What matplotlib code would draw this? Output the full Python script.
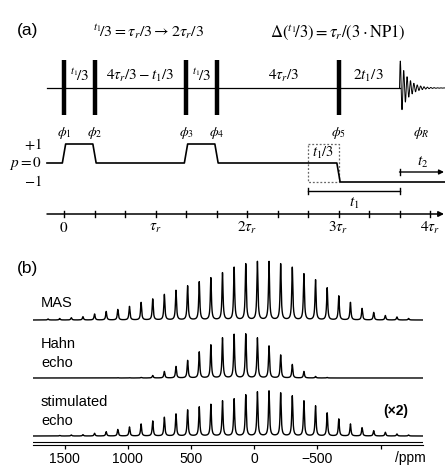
import numpy as np
import matplotlib
matplotlib.use('Agg')
import matplotlib.pyplot as plt
from matplotlib.patches import Rectangle

plt.rcParams['mathtext.fontset'] = 'stix'
plt.rcParams['font.family'] = ['Liberation Sans', 'DejaVu Sans']

# ---------------- data: (a) pulse sequence (times in units of tau_r) ----------------
pulse_times = [0, 1/3, 4/3, 5/3, 3]
pulse_labels = [r'$\phi_1$', r'$\phi_2$', r'$\phi_3$', r'$\phi_4$', r'$\phi_5$']
acq_start = 11/3
coherence_levels = [0, 1, 0, 1, 0, -1]          # before/after each pulse
segment_centers = [1/6, 0.83, 1.5, 2.4, 3.33]
FRAC = r'{}^{t_1}\!/3'
segment_labels = ['$' + FRAC + '$', r'$4\tau_r/3 - t_1/3$', '$' + FRAC + '$',
                  r'$4\tau_r/3$', r'$2t_1/3$']
time_ticks = [i/3 for i in range(13)]
time_tick_labels = {0: r'$0$', 3: r'$\tau_r$', 6: r'$2\tau_r$', 9: r'$3\tau_r$', 12: r'$4\tau_r$'}

# ---------------- data: (b) spinning-sideband spectra ----------------
sideband_ppm = [1631, 1539, 1447, 1355, 1263, 1171, 1079, 987, 895, 803, 711, 619,
                527, 435, 343, 251, 159, 67, -25, -117, -209, -301, -393, -485,
                -577, -669, -761, -853, -945, -1037, -1129, -1221]
mas_heights = [1, 1.5, 2.3, 3.3, 6, 8.5, 10.5, 13.5, 17.5, 21, 25.5, 29.5,
               34, 38, 42, 47, 52.5, 56, 58.3, 58.3, 56, 52.5, 46, 40,
               32, 24, 17.5, 11.5, 7.5, 4.5, 3, 1.5]
hahn_heights = [0, 0, 0, 0, 0, 0, 0.3, 0.3, 0.5, 2.5, 6.5, 11.5,
                17.5, 26, 33, 40, 43.5, 44, 40, 32, 23, 13.5, 6.5, 1.5,
                0.5, 0, 0, 0, 0, 0, 0, 0]
stim_heights = [0, 0.5, 1, 1.3, 2.7, 4.3, 6.5, 9, 12, 15, 18.7, 22,
                26, 29, 31.5, 35, 37, 41, 44, 45, 43, 40, 35, 30,
                23, 17, 12, 8.3, 5.3, 3.7, 2, 1]
ppm_ticks = [1500, 1000, 500, 0, -500, -1000]
ppm_tick_labels = ['1500', '1000', '500', '0', '\u2212500', '']

W, H = 445, 466
fig = plt.figure(figsize=(W/100, H/100), dpi=100)

def ptext(x, y, s, **kw):
    kw.setdefault('ha', 'center')
    kw.setdefault('va', 'center')
    fig.text(x/W, 1 - y/H, s, **kw)

# ---------------- (a) ----------------
X0, TR = 64.0, 91.5
def px2t(px):
    return (px - X0) / TR

axa = fig.add_axes([0, 0, 1, 1])
axa.set_xlim(px2t(0), px2t(W))
axa.set_ylim(H, 0)
axa.axis('off')

LINE_Y = 88
axa.plot([px2t(47), acq_start], [LINE_Y, LINE_Y], color='k', lw=0.9)
for tp in pulse_times:
    axa.plot([tp, tp], [60, 115], color='k', lw=3.2, solid_capstyle='butt')
# FID (schematic)
tf = np.linspace(0, px2t(W) - acq_start, 600)
fid = 30 * np.exp(-tf / 0.085) * np.sin(2 * np.pi * tf / 0.037)
axa.plot(acq_start + tf, LINE_Y - fid, color='k', lw=0.7)

for c, s in zip(segment_centers, segment_labels):
    axa.text(c, 76, s, ha='center', va='center', fontsize=11)
for tp, s in zip(pulse_times, pulse_labels):
    axa.text(tp, 133, s, ha='center', va='center', fontsize=10)
axa.text(px2t(421), 133, r'$\phi_R$', ha='center', va='center', fontsize=10)

# coherence pathway
def cy(p):
    return 163 - 19 * p
pt = [px2t(47)]
pp = [coherence_levels[0]]
for i, tp in enumerate(pulse_times):
    pt += [tp - 0.018, tp + 0.018]
    pp += [coherence_levels[i], coherence_levels[i + 1]]
pt.append(px2t(W))
pp.append(coherence_levels[-1])
axa.plot(pt, [cy(p) for p in pp], color='k', lw=1.2)
axa.text(px2t(42), cy(1), r'$+1$', ha='right', va='center', fontsize=10.5)
axa.text(px2t(42), cy(0), r'$p = 0$', ha='right', va='center', fontsize=11)
axa.text(px2t(42), cy(-1), r'$-1$', ha='right', va='center', fontsize=10.5)

axa.add_patch(Rectangle((8/3, cy(1)), 1/3, cy(-1) - cy(1), fill=False,
                        ls=(0, (1.5, 1.5)), lw=0.9, ec='#666666'))
axa.text(2.83, 153, r'$t_1/3$', ha='center', va='center', fontsize=10.5)

yb = 191
axa.plot([8/3, acq_start], [yb, yb], color='k', lw=1.0)
for xe in (8/3, acq_start):
    axa.plot([xe, xe], [yb - 3, yb + 3], color='k', lw=1.0)
axa.text(3.167, 203, r'$t_1$', ha='center', va='center', fontsize=11)
ya = 172
axa.annotate('', xy=(px2t(444), ya), xytext=(acq_start, ya),
             arrowprops=dict(arrowstyle='-|>', color='k', lw=1.0,
                             shrinkA=0, shrinkB=0, mutation_scale=7))
axa.plot([acq_start, acq_start], [ya - 3, ya + 3], color='k', lw=1.0)
axa.text(px2t(423), 162, r'$t_2$', ha='center', va='center', fontsize=11)

yt = 214
axa.annotate('', xy=(px2t(444), yt), xytext=(px2t(47), yt),
             arrowprops=dict(arrowstyle='-|>', color='k', lw=1.1,
                             shrinkA=0, shrinkB=0, mutation_scale=8))
for i, tk in enumerate(time_ticks):
    axa.plot([tk, tk], [yt - 3, yt + 3], color='k', lw=1.0)
    if i in time_tick_labels:
        axa.text(tk, 228, time_tick_labels[i], ha='center', va='center', fontsize=11)

ptext(28, 31, '(a)', fontsize=12.5)
ptext(149, 32, '$' + FRAC + r' = \tau_r/3 \rightarrow 2\tau_r/3$', fontsize=11.5)
ptext(338, 32, r'$\Delta\left(' + FRAC + r'\right) = \tau_r/(3\cdot\mathrm{NP1})$', fontsize=12)

# ---------------- (b) ----------------
ptext(28, 268, '(b)', fontsize=12.5)
BOT = 445
axb = fig.add_axes([33/W, (H - BOT)/H, 390/W, 190/H])
axb.patch.set_alpha(0)
axb.set_xlim(1750, -1335)
axb.set_ylim(0, 190)

ppm = np.linspace(1750, -1335, 6000)
gam = 5.0
def spectrum(heights, base):
    y = np.full_like(ppm, base, dtype=float)
    for c, h in zip(sideband_ppm, heights):
        y += h * gam**2 / ((ppm - c)**2 + gam**2)
    return y

axb.plot(ppm, spectrum(mas_heights, BOT - 320), color='k', lw=1.0)
axb.plot(ppm, spectrum(hahn_heights, BOT - 378), color='k', lw=1.0)
axb.plot(ppm, spectrum(stim_heights, BOT - 436), color='k', lw=1.0)
axb.axhline(3, color='k', lw=0.8)

for s in ('top', 'left', 'right'):
    axb.spines[s].set_visible(False)
axb.spines['bottom'].set_linewidth(0.8)
axb.set_yticks([])
axb.set_xticks(ppm_ticks)
axb.set_xticklabels(ppm_tick_labels, fontsize=10)
axb.tick_params(axis='x', direction='out', length=3, width=0.9, pad=2)

ptext(41, 303, 'MAS', fontsize=10.5, ha='left')
ptext(41, 344, 'Hahn', fontsize=10.5, ha='left')
ptext(41, 363, 'echo', fontsize=10.5, ha='left')
ptext(41, 402, 'stimulated', fontsize=10.5, ha='left')
ptext(41, 421, 'echo', fontsize=10.5, ha='left')
ptext(396, 411, '(\u00d72)', fontsize=10, fontweight='bold')
ptext(410, 458, '/ppm', fontsize=10)

fig.savefig('out.png', dpi=100)
